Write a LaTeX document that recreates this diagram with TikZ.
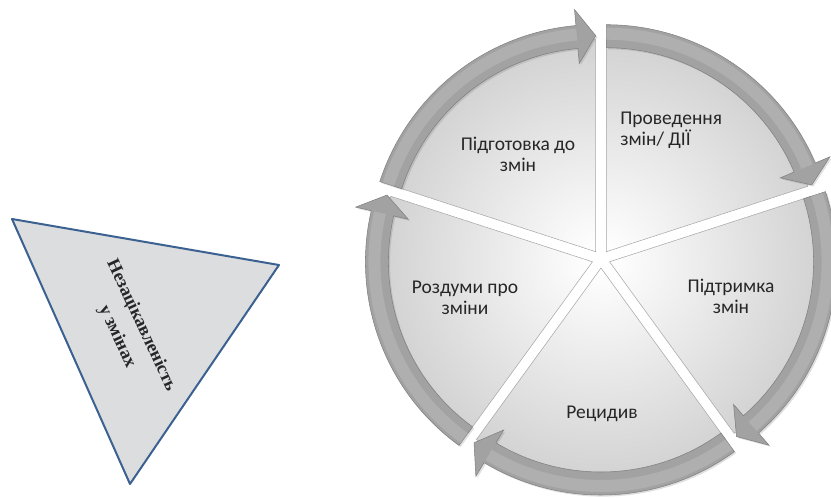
\documentclass[tikz,border=0pt]{standalone}
\usepackage{fontspec}
\setmainfont{Carlito}
\newfontfamily\trifont{Liberation Serif}
\usetikzlibrary{calc,shadows}
\definecolor{MyBand}{HTML}{A2A2A2}
\definecolor{MyBandEdge}{HTML}{808080}
\definecolor{MySlice}{HTML}{D2D2D2}
\definecolor{MySliceEdge}{HTML}{A8A8A8}
\definecolor{MyTriFill}{HTML}{DCDDDF}
\definecolor{MyTriEdge}{HTML}{3B6191}
\definecolor{MyText}{HTML}{262626}
\tikzset{
	pie slice/.style args={#1:#2:#3}{
		insert path={-- (#1:#3) arc (#1:#2:#3) -- cycle}
	},
	cycle arrow/.style args={#1:#2}{
		insert path={(#1:227) arc (#1:#2+5:227) -- (#2+5:243) -- (#2:216) -- (#2+5:189) -- (#2+5:204) arc (#2+5:#1:204) -- cycle}
	},
	band shine/.style args={#1:#2}{
		insert path={(#1:218) arc (#1:#2+5:218)}
	},
	band/.style={fill=MyBand, draw=MyBandEdge, line width=0.4pt,
		drop shadow={shadow xshift=1.2pt, shadow yshift=-1.2pt, opacity=0.25}},
	shine/.style={draw=white, opacity=0.14, line width=9pt},
	slice edge/.style={draw=MySliceEdge, line width=0.4pt},
	label text/.style={font=\fontsize{14.6}{15.75}\selectfont, text=MyText, align=center, inner sep=0pt}
}

\begin{document}
\begin{tikzpicture}[x=0.75pt, y=0.75pt]
		\useasboundingbox (0,0) rectangle (831,497);
		
%		\draw [step=10, gray, thin, opacity=0.3] (0,0) grid (831,497);
		
		\coordinate (C) at (601, 238);
		
		% Pidgotovka
		\begin{scope}[shift={($(C)+(126:9)$)}]
			\begin{scope}
				\clip (0,0) [pie slice=162:90:212];
				\shade[inner color=white, outer color=MySlice] (0,0) circle (212);
			\end{scope}
			\draw[slice edge] (0,0) [pie slice=162:90:212];
			\path[band] [cycle arrow=162:90];
			\path[shine] [band shine=162:90];
		\end{scope}
		
		% Provedennia
		\begin{scope}[shift={($(C)+(54:9)$)}]
			\begin{scope}
				\clip (0,0) [pie slice=90:18:212];
				\shade[inner color=white, outer color=MySlice] (0,0) circle (212);
			\end{scope}
			\draw[slice edge] (0,0) [pie slice=90:18:212];
			\path[band] [cycle arrow=90:18];
			\path[shine] [band shine=90:18];
		\end{scope}
		
		% Pidtrymka
		\begin{scope}[shift={($(C)+(-18:9)$)}]
			\begin{scope}
				\clip (0,0) [pie slice=18:-54:212];
				\shade[inner color=white, outer color=MySlice] (0,0) circle (212);
			\end{scope}
			\draw[slice edge] (0,0) [pie slice=18:-54:212];
			\path[band] [cycle arrow=18:-54];
			\path[shine] [band shine=18:-54];
		\end{scope}
		
		% Retsydyv
		\begin{scope}[shift={($(C)+(-90:9)$)}]
			\begin{scope}
				\clip (0,0) [pie slice=-54:-126:212];
				\shade[inner color=white, outer color=MySlice] (0,0) circle (212);
			\end{scope}
			\draw[slice edge] (0,0) [pie slice=-54:-126:212];
			\path[band] [cycle arrow=-54:-126];
			\path[shine] [band shine=-54:-126];
		\end{scope}
		
		% Rozdumy
		\begin{scope}[shift={($(C)+(-162:9)$)}]
			\begin{scope}
				\clip (0,0) [pie slice=-126:-198:212];
				\shade[inner color=white, outer color=MySlice] (0,0) circle (212);
			\end{scope}
			\draw[slice edge] (0,0) [pie slice=-126:-198:212];
			\path[band] [cycle arrow=-126:-198];
			\path[shine] [band shine=-126:-198];
		\end{scope}
		
		\node[label text] (prep) at (518, 343) {Підготовка до\\змін};
		\node[label text, align=left, anchor=west] (action) at (620, 367) {Проведення\\змін/ ДІЇ};
		\node[label text] (support) at (731, 201) {Підтримка\\змін};
		\node[label text] (relapse) at (602, 83) {Рецидив};
		\node[label text] (think) at (465, 199) {Роздуми про\\зміни};
		
		% triangle
		\coordinate (T1) at (12, 278);
		\coordinate (T2) at (279, 232);
		\coordinate (T3) at (130, 13);
		\draw[fill=MyTriFill, draw=MyTriEdge, line width=1.5pt, line join=round] (T1) -- (T2) -- (T3) -- cycle;
		\node[font=\trifont\bfseries\fontsize{13.6}{20}\selectfont, text=MyText, align=center, inner sep=0pt, rotate=-65] (lazy) at (129, 166) {Незацікавленість\\у змінах};
		
	\end{tikzpicture}
\end{document}
